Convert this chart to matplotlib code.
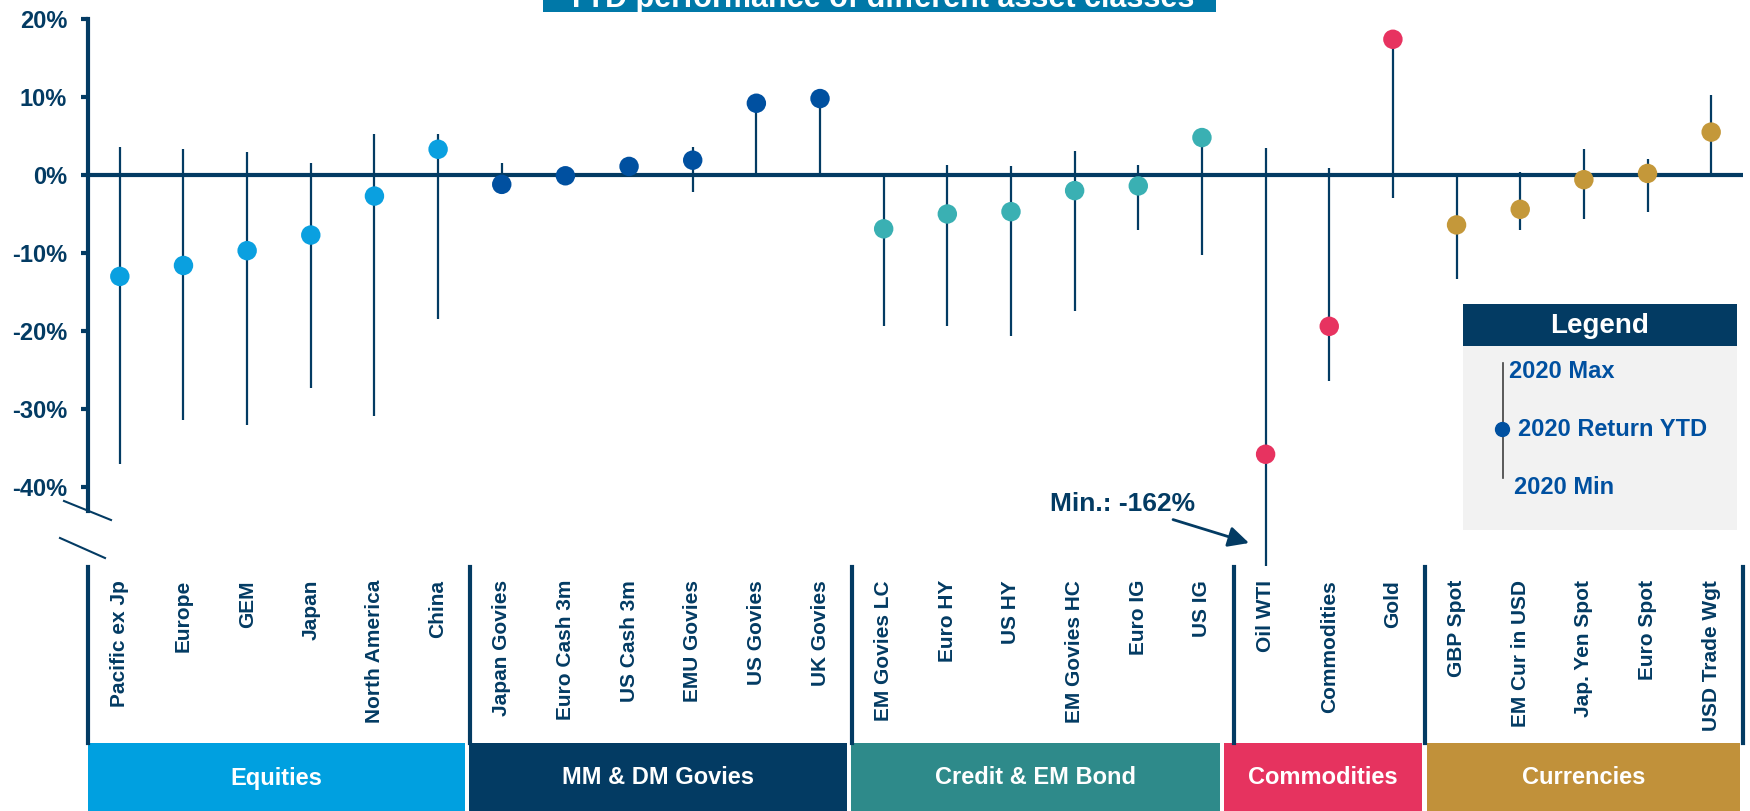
import matplotlib
matplotlib.use("Agg")
import matplotlib.pyplot as plt
from matplotlib.patches import Rectangle
from matplotlib.lines import Line2D
from matplotlib import transforms as mtrans

# ---------------- data ----------------
categories = ["Pacific ex Jp", "Europe", "GEM", "Japan", "North America", "China",
              "Japan Govies", "Euro Cash 3m", "US Cash 3m", "EMU Govies", "US Govies", "UK Govies",
              "EM Govies LC", "Euro HY", "US HY", "EM Govies HC", "Euro IG", "US IG",
              "Oil WTI", "Commodities", "Gold",
              "GBP Spot", "EM Cur in USD", "Jap. Yen Spot", "Euro Spot", "USD Trade Wgt"]
returns_ytd = [-13.0, -11.6, -9.7, -7.7, -2.7, 3.3,
               -1.2, -0.1, 1.1, 1.9, 9.2, 9.8,
               -6.9, -5.0, -4.7, -2.0, -1.4, 4.8,
               -35.8, -19.4, 17.4,
               -6.4, -4.4, -0.6, 0.2, 5.5]
max_2020 = [3.6, 3.3, 2.9, 1.6, 5.3, 5.3,
            1.6, 0.0, 1.3, 3.6, 9.2, 10.4,
            0.0, 1.3, 1.2, 3.1, 1.3, 5.0,
            3.5, 0.9, 17.6,
            0.0, 0.4, 3.3, 2.0, 10.3]
min_2020 = [-37.1, -31.4, -32.0, -27.3, -30.9, -18.4,
            -1.4, -0.1, 0.0, -2.2, 0.0, 0.0,
            -19.4, -19.4, -20.6, -17.4, -7.1, -10.3,
            -162.0, -26.4, -3.0,
            -13.3, -7.0, -5.7, -4.7, 0.0]
groups = ["Equities", "MM & DM Govies", "Credit & EM Bond", "Commodities", "Currencies"]
group_sizes = [6, 6, 6, 3, 5]
yticks = [20, 10, 0, -10, -20, -30, -40]
ytick_labels = ["20%", "10%", "0%", "-10%", "-20%", "-30%", "-40%"]
title_text = "YTD performance of different asset classes"
annotation_text = "Min.: -162%"
legend_title = "Legend"
legend_labels = ["2020 Max", "2020 Return YTD", "2020 Min"]

# ---------------- style ----------------
NAVY = "#033B63"
dot_colors = ["#0AA0E0", "#0050A0", "#3AB0B3", "#E73360", "#C4983A"]
box_colors = ["#00A0E0", "#033B63", "#2E8A8A", "#E6335F", "#C1913A"]
box_edges = [(-0.5, 5.42), (5.49, 11.42), (11.48, 17.29), (17.35, 20.45), (20.53, 25.45)]
LEG_BLUE = "#0050A0"

plt.rcParams["font.family"] = ["Liberation Sans", "DejaVu Sans"]
plt.rcParams["font.weight"] = "bold"

W, H = 1750, 811
fig = plt.figure(figsize=(W / 100, H / 100), dpi=100)
fig.patch.set_facecolor("white")


def fx(px):
    return px / W


def fy(py):
    return 1 - py / H


AX_L, AX_R, AX_T, AX_B = 88, 1743, 19, 566
ax = fig.add_axes([fx(AX_L), fy(AX_B), (AX_R - AX_L) / W, (AX_B - AX_T) / H])
ax.set_xlim(-0.5, 25.5)
ax.set_ylim(20 - (AX_B - AX_T) / 7.8, 20)
ax.set_facecolor("none")

xs = list(range(len(categories)))
cols = []
for g, n in enumerate(group_sizes):
    cols += [dot_colors[g]] * n

ax.axhline(0, color=NAVY, lw=3, zorder=2)
ax.vlines(xs, min_2020, max_2020, color=NAVY, lw=1.6, zorder=2.5)
ax.scatter(xs, returns_ytd, s=14 ** 2, c=cols, zorder=3, linewidths=0)

for s in ["top", "right", "bottom"]:
    ax.spines[s].set_visible(False)
ax.spines["left"].set_color(NAVY)
ax.spines["left"].set_linewidth(3)
ax.spines["left"].set_bounds(20 - (511 - AX_T) / 7.8, 20)
ax.set_xticks([])
ax.set_yticks(yticks)
ax.set_yticklabels(ytick_labels, fontsize=17, fontweight="bold", color=NAVY)
ax.tick_params(axis="y", length=5, width=3, color=NAVY, pad=10)

# axis break marks
for (x0, y0, x1, y1) in [(64, 501, 111, 520), (60, 538, 105, 558)]:
    fig.add_artist(Line2D([fx(x0), fx(x1)], [fy(y0), fy(y1)], color=NAVY, lw=1.5,
                          transform=fig.transFigure))

blend = mtrans.blended_transform_factory(ax.transData, fig.transFigure)

# separators under the plot
bounds = [-0.5]
acc = -0.5
for n in group_sizes:
    acc += n
    bounds.append(acc)
for b in bounds:
    ax.add_artist(Line2D([b, b], [fy(567), fy(743)], color=NAVY, lw=3,
                         transform=blend, clip_on=False))

# category labels
for x, c in zip(xs, categories):
    ax.text(x, fy(580), c, transform=blend, rotation=90, ha="center", va="top",
            fontsize=15, fontweight="bold", color=NAVY, clip_on=False)

# group boxes
for (x0, x1), g, bc in zip(box_edges, groups, box_colors):
    ax.add_patch(Rectangle((x0, fy(811)), x1 - x0, (811 - 743) / H, transform=blend,
                           facecolor=bc, edgecolor="none", clip_on=False))
    ax.text((x0 + x1) / 2, fy(778), g, transform=blend, ha="center", va="center",
            fontsize=17, fontweight="bold", color="white", clip_on=False)

# annotation
ax.annotate(annotation_text, xy=(fx(1249), fy(543)), xycoords="figure fraction",
            xytext=(fx(1195), fy(504)), textcoords="figure fraction",
            ha="right", va="center", fontsize=19, fontweight="bold", color=NAVY,
            arrowprops=dict(arrowstyle="-|>,head_length=0.5,head_width=0.25", color=NAVY,
                            lw=2, mutation_scale=25, shrinkA=2, shrinkB=0))

# title box (cut off at top)
fig.add_artist(Rectangle((fx(543), fy(12)), (1216 - 543) / W, 60 / H,
                         transform=fig.transFigure, facecolor="#0078A8", edgecolor="none"))
fig.text(fx(880), fy(7), title_text, ha="center", va="baseline", fontsize=22,
         fontweight="bold", color="white")

# legend
fig.add_artist(Rectangle((fx(1463), fy(530)), (1737 - 1463) / W, (530 - 346) / H,
                         transform=fig.transFigure, facecolor="#F2F2F2", edgecolor="none"))
fig.add_artist(Rectangle((fx(1463), fy(346)), (1737 - 1463) / W, (346 - 304) / H,
                         transform=fig.transFigure, facecolor=NAVY, edgecolor="none"))
fig.text(fx(1600), fy(326), legend_title, ha="center", va="center", fontsize=20,
         fontweight="bold", color="white")
fig.add_artist(Line2D([fx(1503), fx(1503)], [fy(363), fy(478)], color="#404040", lw=1.2,
                      transform=fig.transFigure))
fig.add_artist(Line2D([fx(1502)], [fy(429)], marker="o", markersize=10, color=LEG_BLUE,
                      transform=fig.transFigure))
for (lx, ly), lab in zip([(1509, 371), (1518, 430), (1514, 487)], legend_labels):
    fig.text(fx(lx), fy(ly), lab, ha="left", va="center", fontsize=17,
             fontweight="bold", color=LEG_BLUE)

fig.savefig("out.png", dpi=100)
